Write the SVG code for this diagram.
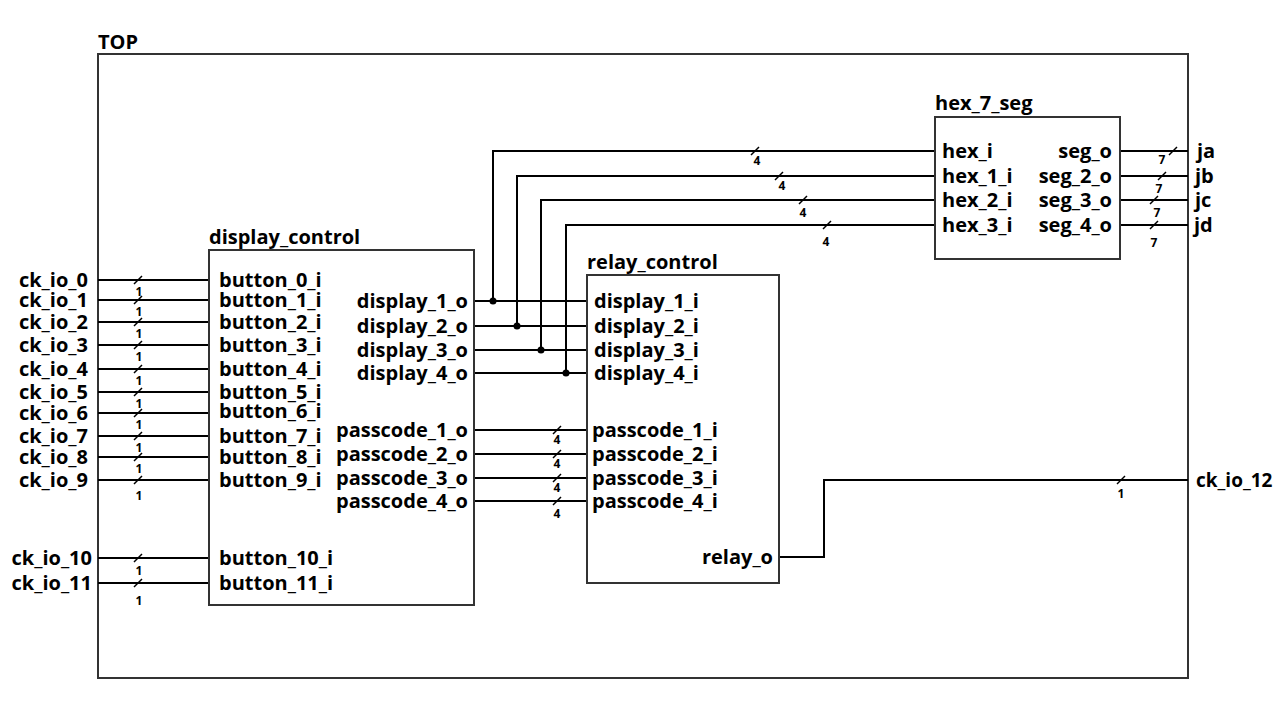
<svg xmlns="http://www.w3.org/2000/svg" width="1280" height="720" viewBox="0 0 1280 720">
<style>
text{font-family:"Open Sans","DejaVu Sans",sans-serif;font-weight:700;fill:#000}
.t{font-size:20px}
.s{font-size:12px}
.e{text-anchor:end}
.m{text-anchor:middle}
.box{fill:#fff;stroke:#333;stroke-width:2}
.w{fill:none;stroke:#000;stroke-width:2}
.sl{stroke:#000;stroke-width:1.5}
</style>
<rect width="1280" height="720" fill="#fff"/>
<g id="TOP">
<rect class="box" x="98" y="54" width="1090" height="624"/>
<text class="t" x="98" y="49">TOP</text>
</g>
<g id="connectors">
<g class="w">
<path d="M98 280H209M98 300H209M98 322H209M98 345H209M98 369H209M98 392H209M98 413H209M98 436H209M98 457H209M98 480H209M98 558H209M98 583H209"/>
<path d="M474 301H587M474 326H587M474 350H587M474 373H587"/>
<path d="M493 301V151H935M517 326V176H935M541 350V200H935M566 373V225H935"/>
<path d="M474 430H587M474 454H587M474 478H587M474 501H587"/>
<path d="M779 557H824V480H1188"/>
<path d="M1120 151H1188M1120 176H1188M1120 200H1188M1120 225H1188"/>
</g>
<g fill="#000">
<circle cx="493" cy="301" r="3.5"/><circle cx="517" cy="326" r="3.5"/><circle cx="541" cy="350" r="3.5"/><circle cx="566" cy="373" r="3.5"/>
</g>
<g class="sl">
<path d="M134 284l8-8M134 304l8-8M134 326l8-8M134 349l8-8M134 373l8-8M134 396l8-8M134 417l8-8M134 440l8-8M134 461l8-8M134 484l8-8M134 562l8-8M134 587l8-8"/>
<path d="M751 155l8-8M775 180l8-8M799 204l8-8M823 229l8-8"/>
<path d="M553 434l8-8M553 458l8-8M553 482l8-8M553 505l8-8"/>
<path d="M1117 484l8-8"/>
<path d="M1169 155l8-8M1158 180l8-8M1150 204l8-8M1150 229l8-8"/>
</g>
<g class="s m">
<text x="139" y="296">1</text><text x="139" y="316">1</text><text x="139" y="338">1</text><text x="139" y="361">1</text><text x="139" y="385">1</text><text x="139" y="408">1</text><text x="139" y="429">1</text><text x="139" y="452">1</text><text x="139" y="473">1</text><text x="139" y="500">1</text><text x="139" y="575">1</text><text x="139" y="605">1</text>
<text x="757" y="165">4</text><text x="782" y="190">4</text><text x="803" y="217">4</text><text x="826" y="246">4</text>
<text x="557" y="444">4</text><text x="557" y="468">4</text><text x="557" y="492">4</text><text x="557" y="518">4</text>
<text x="1121" y="498">1</text>
<text x="1162" y="164">7</text><text x="1159" y="193">7</text><text x="1157" y="217">7</text><text x="1154" y="247">7</text>
</g>
<g class="t e">
<text x="88" y="287">ck_io_0</text><text x="88" y="307">ck_io_1</text><text x="88" y="329">ck_io_2</text><text x="88" y="352">ck_io_3</text><text x="88" y="376">ck_io_4</text><text x="88" y="399">ck_io_5</text><text x="88" y="420">ck_io_6</text><text x="88" y="443">ck_io_7</text><text x="88" y="464">ck_io_8</text><text x="88" y="487">ck_io_9</text><text x="92" y="565">ck_io_10</text><text x="92" y="590">ck_io_11</text>
</g>
<g class="t">
<text x="1196" y="487" style="font-size:19px">ck_io_12</text>
<text x="1197" y="158">ja</text><text x="1195" y="183">jb</text><text x="1195" y="207">jc</text><text x="1194" y="232">jd</text>
</g>
</g>
<g id="display_control">
<rect class="box" x="209" y="250" width="265" height="355"/>
<text class="t" x="209" y="244">display_control</text>
<text class="t" x="219" y="287">button_0_i</text><text class="t" x="219" y="307">button_1_i</text><text class="t" x="219" y="329">button_2_i</text><text class="t" x="219" y="352">button_3_i</text><text class="t" x="219" y="376">button_4_i</text><text class="t" x="219" y="399">button_5_i</text><text class="t" x="219" y="418">button_6_i</text><text class="t" x="219" y="443">button_7_i</text><text class="t" x="219" y="464">button_8_i</text><text class="t" x="219" y="487">button_9_i</text><text class="t" x="219" y="565">button_10_i</text><text class="t" x="219" y="590">button_11_i</text>
<g class="t e">
<text x="468" y="308">display_1_o</text><text x="468" y="333">display_2_o</text><text x="468" y="357">display_3_o</text><text x="468" y="380">display_4_o</text>
<text x="468" y="437">passcode_1_o</text><text x="468" y="461">passcode_2_o</text><text x="468" y="485">passcode_3_o</text><text x="468" y="508">passcode_4_o</text>
</g>
</g>
<g id="relay_control">
<rect class="box" x="587" y="275" width="192" height="308"/>
<text class="t" x="587" y="269">relay_control</text>
<text class="t" x="594" y="308">display_1_i</text><text class="t" x="594" y="333">display_2_i</text><text class="t" x="594" y="357">display_3_i</text><text class="t" x="594" y="380">display_4_i</text>
<text class="t" x="592" y="437">passcode_1_i</text><text class="t" x="592" y="461">passcode_2_i</text><text class="t" x="592" y="485">passcode_3_i</text><text class="t" x="592" y="508">passcode_4_i</text>
<text class="t e" x="773" y="564">relay_o</text>
</g>
<g id="hex_7_seg">
<rect class="box" x="935" y="117" width="185" height="142"/>
<text class="t" x="935" y="110">hex_7_seg</text>
<text class="t" x="942" y="158">hex_i</text><text class="t" x="942" y="183">hex_1_i</text><text class="t" x="942" y="207">hex_2_i</text><text class="t" x="942" y="232">hex_3_i</text>
<g class="t e">
<text x="1112" y="158">seg_o</text><text x="1112" y="183">seg_2_o</text><text x="1112" y="207">seg_3_o</text><text x="1112" y="232">seg_4_o</text>
</g>
</g>
</svg>
